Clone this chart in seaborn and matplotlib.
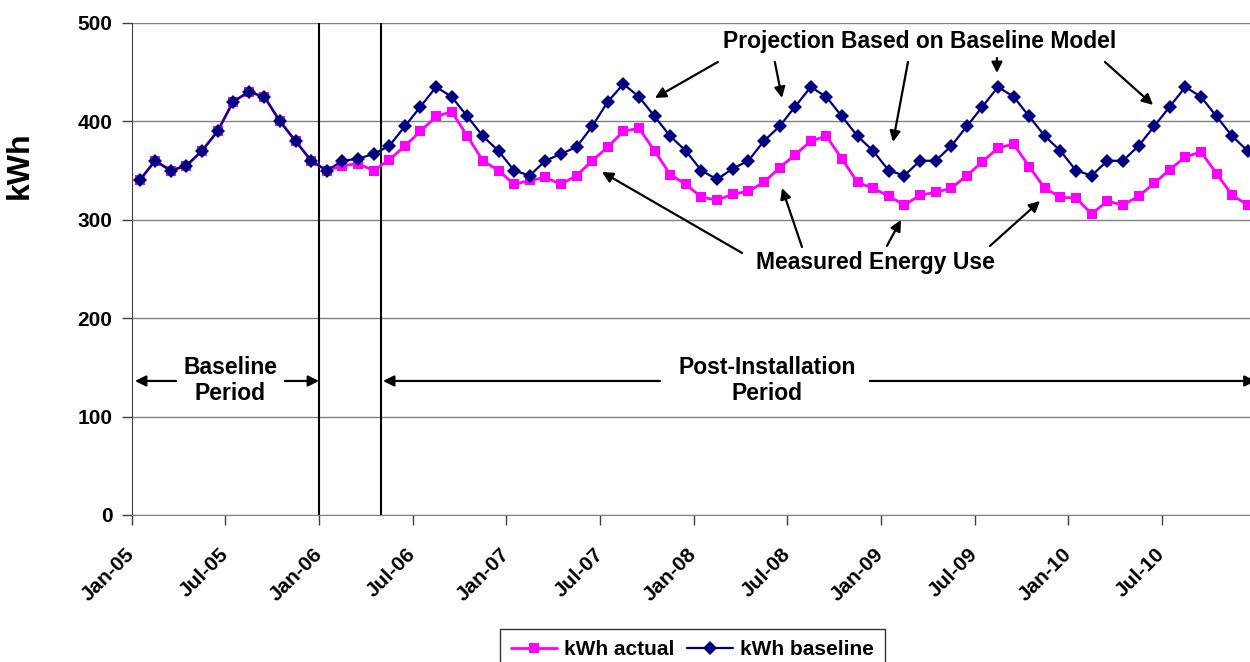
import numpy as np
import pandas as pd
import matplotlib
matplotlib.use("Agg")
import matplotlib.pyplot as plt
import seaborn as sns

# ---- data ----
tick_labels = ["Jan-05", "Jul-05", "Jan-06", "Jul-06", "Jan-07", "Jul-07",
               "Jan-08", "Jul-08", "Jan-09", "Jul-09", "Jan-10", "Jul-10"]

kwh_baseline = [340, 360, 350, 355, 370, 390, 420, 430, 425, 400, 380, 360,
                350, 360, 362, 367, 375, 395, 415, 435, 425, 405, 385, 370,
                350, 345, 360, 367, 374, 395, 420, 438, 425, 405, 385, 370,
                350, 341, 352, 360, 380, 395, 415, 435, 425, 405, 385, 370,
                350, 345, 360, 360, 375, 395, 415, 435, 425, 405, 385, 370,
                350, 345, 360, 360, 375, 395, 415, 435, 425, 405, 385, 370]

kwh_actual = [340, 360, 350, 355, 370, 390, 420, 430, 425, 400, 380, 360,
              350, 355, 357, 350, 361, 375, 390, 405, 410, 385, 360, 350,
              336, 340, 343, 336, 345, 360, 374, 390, 393, 370, 346, 336,
              323, 320, 326, 329, 338, 353, 366, 380, 385, 362, 338, 332,
              324, 315, 325, 328, 332, 345, 359, 373, 377, 354, 332, 323,
              322, 306, 319, 315, 324, 337, 351, 364, 369, 347, 325, 315]

# ---- styling ----
sns.set_style("white")
plt.rcParams["font.family"] = ["Liberation Sans", "DejaVu Sans"]
plt.rcParams["font.weight"] = "bold"
for k in ["text.color", "axes.labelcolor", "xtick.color", "ytick.color"]:
    plt.rcParams[k] = "black"

W, H = 1250, 662
fig = plt.figure(figsize=(W / 100, H / 100), dpi=100)
x_left, x_right = 131.7, 1255.6
y_top, y_bot = 23, 515
ax = fig.add_axes([x_left / W, 1 - y_bot / H, (x_right - x_left) / W, (y_bot - y_top) / H])

n = len(kwh_baseline)
month_pos = np.arange(n) + 0.5  # mid-month positions
df = pd.DataFrame({"month": month_pos, "actual": kwh_actual, "baseline": kwh_baseline})

sns.lineplot(data=df, x="month", y="actual", ax=ax, color="#FF00FF", lw=2,
             marker="s", markersize=7.2, markeredgewidth=0, label="kWh actual", zorder=3)
sns.lineplot(data=df, x="month", y="baseline", ax=ax, color="#000080", lw=1.6,
             marker="D", markersize=6.8, markeredgewidth=0, label="kWh baseline", zorder=4)

ax.set_xlim(0, 72)
ax.set_ylim(0, 500)
ax.set_xticks(np.arange(0, 72, 6))
ax.set_xticklabels(tick_labels, rotation=45, ha="right", va="center", rotation_mode="anchor",
                   fontsize=15, fontweight="bold")
ax.set_yticks([0, 100, 200, 300, 400, 500])
ax.set_yticklabels(["0", "100", "200", "300", "400", "500"], fontsize=15, fontweight="bold")
ax.tick_params(axis="both", direction="out", length=7, width=1, color="#404040",
               bottom=True, left=True)
ax.tick_params(axis="y", pad=7)
ax.tick_params(axis="x", pad=19)

ax.yaxis.grid(True, color="#808080", lw=1)
ax.xaxis.grid(False)
ax.set_axisbelow(True)
for s in ["top", "right"]:
    ax.spines[s].set_visible(False)
ax.spines["left"].set_color("#404040")
ax.spines["bottom"].set_color("#808080")

ax.set_xlabel("")
ax.set_ylabel("kWh", fontsize=23, fontweight="bold")
ax.yaxis.set_label_coords(-0.086, 0.711)

# period separators
ax.axvline(12, color="black", lw=1.5, zorder=2)
ax.axvline(16, color="black", lw=1.5, zorder=2)

arrow_kw = dict(arrowstyle="-|>", color="black", lw=1.6, mutation_scale=16,
                shrinkA=0, shrinkB=0)

def arrow(tail, tip):
    ax.annotate("", xy=tip, xytext=tail, arrowprops=arrow_kw, annotation_clip=False)

FS = 16.5
# Projection annotation
ax.text(50.5, 480.7, "Projection Based on Baseline Model", ha="center", va="center",
        fontsize=FS, fontweight="bold")
arrow((37.55, 460.4), (33.52, 423.8))
arrow((41.2, 460.4), (41.66, 423.8))
arrow((49.73, 460.4), (48.77, 379.1))
arrow((55.43, 464.4), (55.43, 449.2))
arrow((62.35, 460.4), (65.43, 416.7))

# Measured annotation
ax.text(47.62, 257.1, "Measured Energy Use", ha="center", va="center",
        fontsize=FS, fontweight="bold")
arrow((39.1, 266.3), (30.13, 348.6))
arrow((42.94, 272.4), (41.66, 332.3))
arrow((48.38, 273.4), (49.28, 299.8))
arrow((54.98, 273.4), (58.19, 319.1))

# Periods
ax.text(6.31, 136.5, "Baseline\nPeriod", ha="center", va="center", fontsize=FS,
        fontweight="bold", linespacing=1.2)
arrow((2.84, 136.2), (0.21, 136.2))
arrow((9.82, 136.2), (12.0, 136.2))
ax.text(40.7, 136.5, "Post-Installation\nPeriod", ha="center", va="center", fontsize=FS,
        fontweight="bold", linespacing=1.2)
arrow((33.84, 136.2), (16.1, 136.2))
arrow((47.29, 136.2), (72.0, 136.2))

# legend
ax.legend_.remove()
h, l = ax.get_legend_handles_labels()
leg = fig.legend(h, l, loc="upper center", bbox_to_anchor=(692.5 / W, 1 - 629 / H),
                 ncol=2, frameon=True, fancybox=False, edgecolor="black",
                 prop={"size": 15, "weight": "bold"}, handlelength=2.2,
                 columnspacing=0.6, handletextpad=0.35, borderpad=0.55, borderaxespad=0)
leg.get_frame().set_linewidth(1.0)

fig.savefig("out.png", dpi=100)
